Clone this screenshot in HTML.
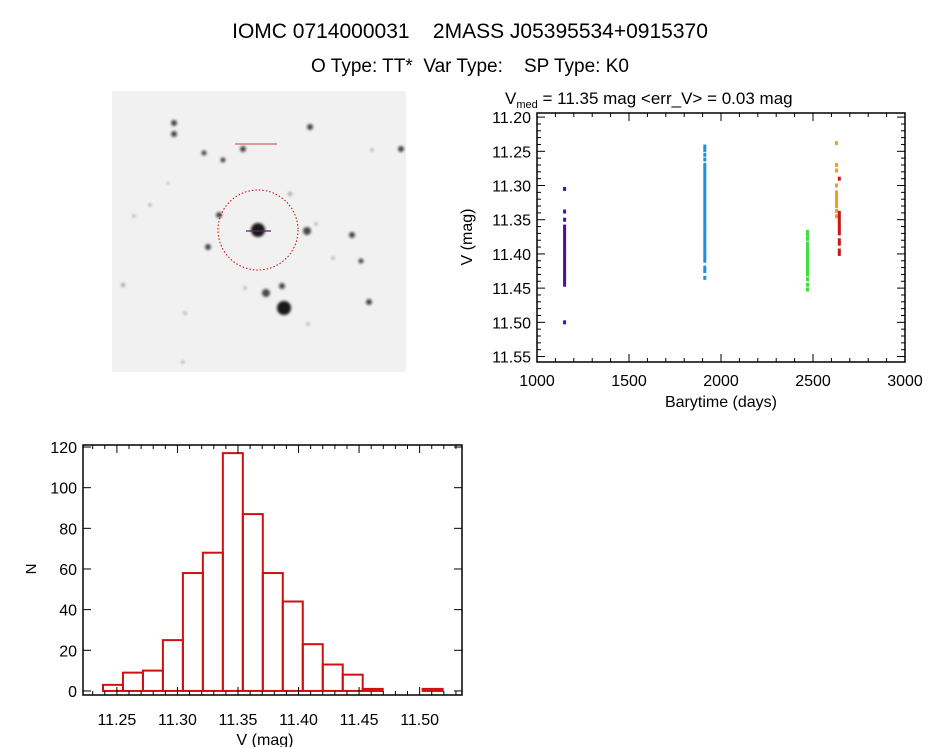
<!DOCTYPE html>
<html><head><meta charset="utf-8"><style>
body{margin:0;background:#fff;width:944px;height:747px;overflow:hidden;font-family:"Liberation Sans",sans-serif}
svg{position:absolute;left:0;top:0}
text{white-space:pre}
</style></head><body>
<svg id="s" width="944" height="747">
<defs><filter id="bl" x="-1" y="-1" width="3" height="3"><feGaussianBlur stdDeviation="1.2"/></filter></defs>
<text x="470" y="38" font-size="21" text-anchor="middle" xml:space="preserve">IOMC 0714000031    2MASS J05395534+0915370</text>
<text x="470" y="72" font-size="19" text-anchor="middle" xml:space="preserve">O Type: TT*  Var Type:    SP Type: K0</text>
<text x="505" y="104" font-size="17" xml:space="preserve">V<tspan font-size="11" dy="4">med</tspan><tspan dy="-4"> = 11.35 mag &lt;err_V&gt; = 0.03 mag</tspan></text>
<g id="img"></g>
<g id="lc"></g>
<g id="hist"></g>
</svg>
<script>
// Light curve data
const lcTimes = [1150, 1912, 2470, 2628, 2643];
const lcColors = ["#4b0fa0", "#1f8fe0", "#3de03d", "#f0a020", "#c81818"];
const lcPurple = [11.305,11.338,11.35,11.36,11.365,11.37,11.375,11.38,11.385,11.39,11.395,11.40,11.405,11.41,11.415,11.42,11.425,11.43,11.435,11.44,11.445,11.50];
const lcBlue = [11.243,11.248,11.255,11.262,11.27,11.275,11.28,11.285,11.29,11.295,11.30,11.305,11.31,11.315,11.32,11.325,11.33,11.335,11.34,11.345,11.35,11.355,11.36,11.365,11.37,11.375,11.38,11.385,11.39,11.395,11.40,11.405,11.41,11.42,11.425,11.435];
const lcGreen = [11.368,11.372,11.378,11.385,11.39,11.395,11.40,11.403,11.407,11.41,11.415,11.42,11.425,11.43,11.437,11.445,11.452];
const lcOrange = [11.238,11.27,11.278,11.30,11.31,11.315,11.32,11.325,11.33,11.337,11.345];
const lcRed = [11.29,11.34,11.345,11.35,11.355,11.36,11.365,11.37,11.38,11.385,11.395,11.40];
const lcXTicks = [1000,1500,2000,2500,3000];
const lcYTicks = [11.20,11.25,11.30,11.35,11.40,11.45,11.50,11.55];
// Histogram data
const histStart = 11.2385, histWidth = 0.0165;
const histCounts = [3,9,10,25,58,68,117,87,58,44,23,13,8,1,0,0,1];
const histXTicks = [11.25,11.30,11.35,11.40,11.45,11.50];
const histYTicks = [0,20,40,60,80,100,120];

const NS="http://www.w3.org/2000/svg";
function mk(p,t,a){const e=document.createElementNS(NS,t);for(const k in a)e.setAttribute(k,a[k]);p.appendChild(e);return e;}

// Sky image
const img=document.getElementById('img');
const bg=mk(img,'rect',{x:112,y:91,width:294,height:281,fill:'#f1f1f1'});


const stars=[[174,123,3],[174,134,3],[310,127,3],[401,149,3],[243,149,3],[204,153,2.5],[223,160,2.5],[258,230,7],[307,231,4],[219,215,3],[208,247,3],[352,235,3],[361,261,2.5],[266,293,4],[282,286,3],[284,308,7],[369,302,3],[123,285,2],[290,194,2],[150,205,1.5],[134,216,1.5],[185,313,1.5],[316,224,1.5],[333,258,1.5],[308,324,1.5],[245,288,1.5],[183,362,1.5],[168,183,1.2],[372,150,1.5]];
for(const s of stars){const c=mk(img,'circle',{cx:s[0],cy:s[1],r:s[2],fill:'#111',opacity:s[2]>5?0.95:(s[2]>2?0.75:0.35),filter:'url(#bl)'});

}
const circ=mk(img,'circle',{cx:258,cy:230,r:40,fill:'none',stroke:'#c00','stroke-width':1,'stroke-dasharray':'1.5 2'});


mk(img,'line',{x1:246,y1:231,x2:271,y2:231,stroke:'#602060','stroke-width':1.2});
mk(img,'rect',{x:235,y:143,width:42,height:2,fill:'#d04040',opacity:0.5});

// Light curve axes
const lc=document.getElementById('lc');
const LX0=537,LX1=905,LY0=113,LY1=362;
const xMin=1000,xMax=3000,yTop=11.194,yBot=11.558;
const lx=v=>LX0+(v-xMin)/(xMax-xMin)*(LX1-LX0);
const ly=v=>LY0+(v-yTop)/(yBot-yTop)*(LY1-LY0);
mk(lc,'rect',{x:LX0,y:LY0,width:LX1-LX0,height:LY1-LY0,fill:'none',stroke:'#000','stroke-width':1.5});
for(let v=1000;v<=3000;v+=100){const L=v%500===0?8:4;
mk(lc,'line',{x1:lx(v),y1:LY1,x2:lx(v),y2:LY1-L,stroke:'#000'});mk(lc,'line',{x1:lx(v),y1:LY0,x2:lx(v),y2:LY0+L,stroke:'#000'});}
for(let i=0;i<=36;i++){const v=11.20+i*0.01;if(v>yBot)break;const L=i%5===0?8:4;
mk(lc,'line',{x1:LX0,y1:ly(v),x2:LX0+L,y2:ly(v),stroke:'#000'});mk(lc,'line',{x1:LX1,y1:ly(v),x2:LX1-L,y2:ly(v),stroke:'#000'});}
lcXTicks.forEach(v=>{const t=mk(lc,'text',{x:lx(v),y:386,'font-size':16,'text-anchor':'middle'});t.textContent=v;

});
lcYTicks.forEach(v=>{const t=mk(lc,'text',{x:LX0-6,y:ly(v)+6,'font-size':16,'text-anchor':'end'});t.textContent=v.toFixed(2);

});
let t=mk(lc,'text',{x:721,y:407,'font-size':16,'text-anchor':'middle'});t.textContent='Barytime (days)';


t=mk(lc,'text',{x:0,y:0,'font-size':16,'text-anchor':'middle',transform:'translate(472,237) rotate(-90)'});t.textContent='V (mag)';


[lcPurple,lcBlue,lcGreen,lcOrange,lcRed].forEach((arr,gi)=>{arr.forEach(v=>{
const p=mk(lc,'rect',{x:lx(lcTimes[gi])-1.5,y:ly(v)-2,width:3,height:4,fill:lcColors[gi]});

});});

// Histogram
const h=document.getElementById('hist');
const HX0=83,HX1=462,HY0=445,HY1=695;
const hxMin=11.222,hxMax=11.535,hyMin=-2,hyMax=121;
const hx=v=>HX0+(v-hxMin)/(hxMax-hxMin)*(HX1-HX0);
const hy=v=>HY1-(v-hyMin)/(hyMax-hyMin)*(HY1-HY0);
histCounts.forEach((c,i)=>{const a=histStart+i*histWidth,b=a+histWidth;
const r=mk(h,'rect',{x:hx(a),y:hy(c),width:hx(b)-hx(a),height:hy(0)-hy(c),fill:'none',stroke:'#d01010','stroke-width':2});

});
mk(h,'rect',{x:HX0,y:HY0,width:HX1-HX0,height:HY1-HY0,fill:'none',stroke:'#000','stroke-width':1.5});
for(let i=0;i<=31;i++){const v=11.23+i*0.01;if(v>hxMax)break;const L=Math.round(v*100)%5===0?8:4;
mk(h,'line',{x1:hx(v),y1:HY1,x2:hx(v),y2:HY1-L,stroke:'#000'});mk(h,'line',{x1:hx(v),y1:HY0,x2:hx(v),y2:HY0+L,stroke:'#000'});}
histYTicks.forEach(v=>{mk(h,'line',{x1:HX0,y1:hy(v),x2:HX0+8,y2:hy(v),stroke:'#000'});mk(h,'line',{x1:HX1,y1:hy(v),x2:HX1-8,y2:hy(v),stroke:'#000'});
const tt=mk(h,'text',{x:HX0-6,y:hy(v)+6,'font-size':16,'text-anchor':'end'});tt.textContent=v;

});
histXTicks.forEach(v=>{const tt=mk(h,'text',{x:hx(v),y:725,'font-size':16,'text-anchor':'middle'});tt.textContent=v.toFixed(2);

});
t=mk(h,'text',{x:265,y:745,'font-size':16,'text-anchor':'middle'});t.textContent='V (mag)';


t=mk(h,'text',{x:0,y:0,'font-size':15,'text-anchor':'middle',transform:'translate(36,569) rotate(-90)'});t.textContent='N';


</script>
</body></html>
